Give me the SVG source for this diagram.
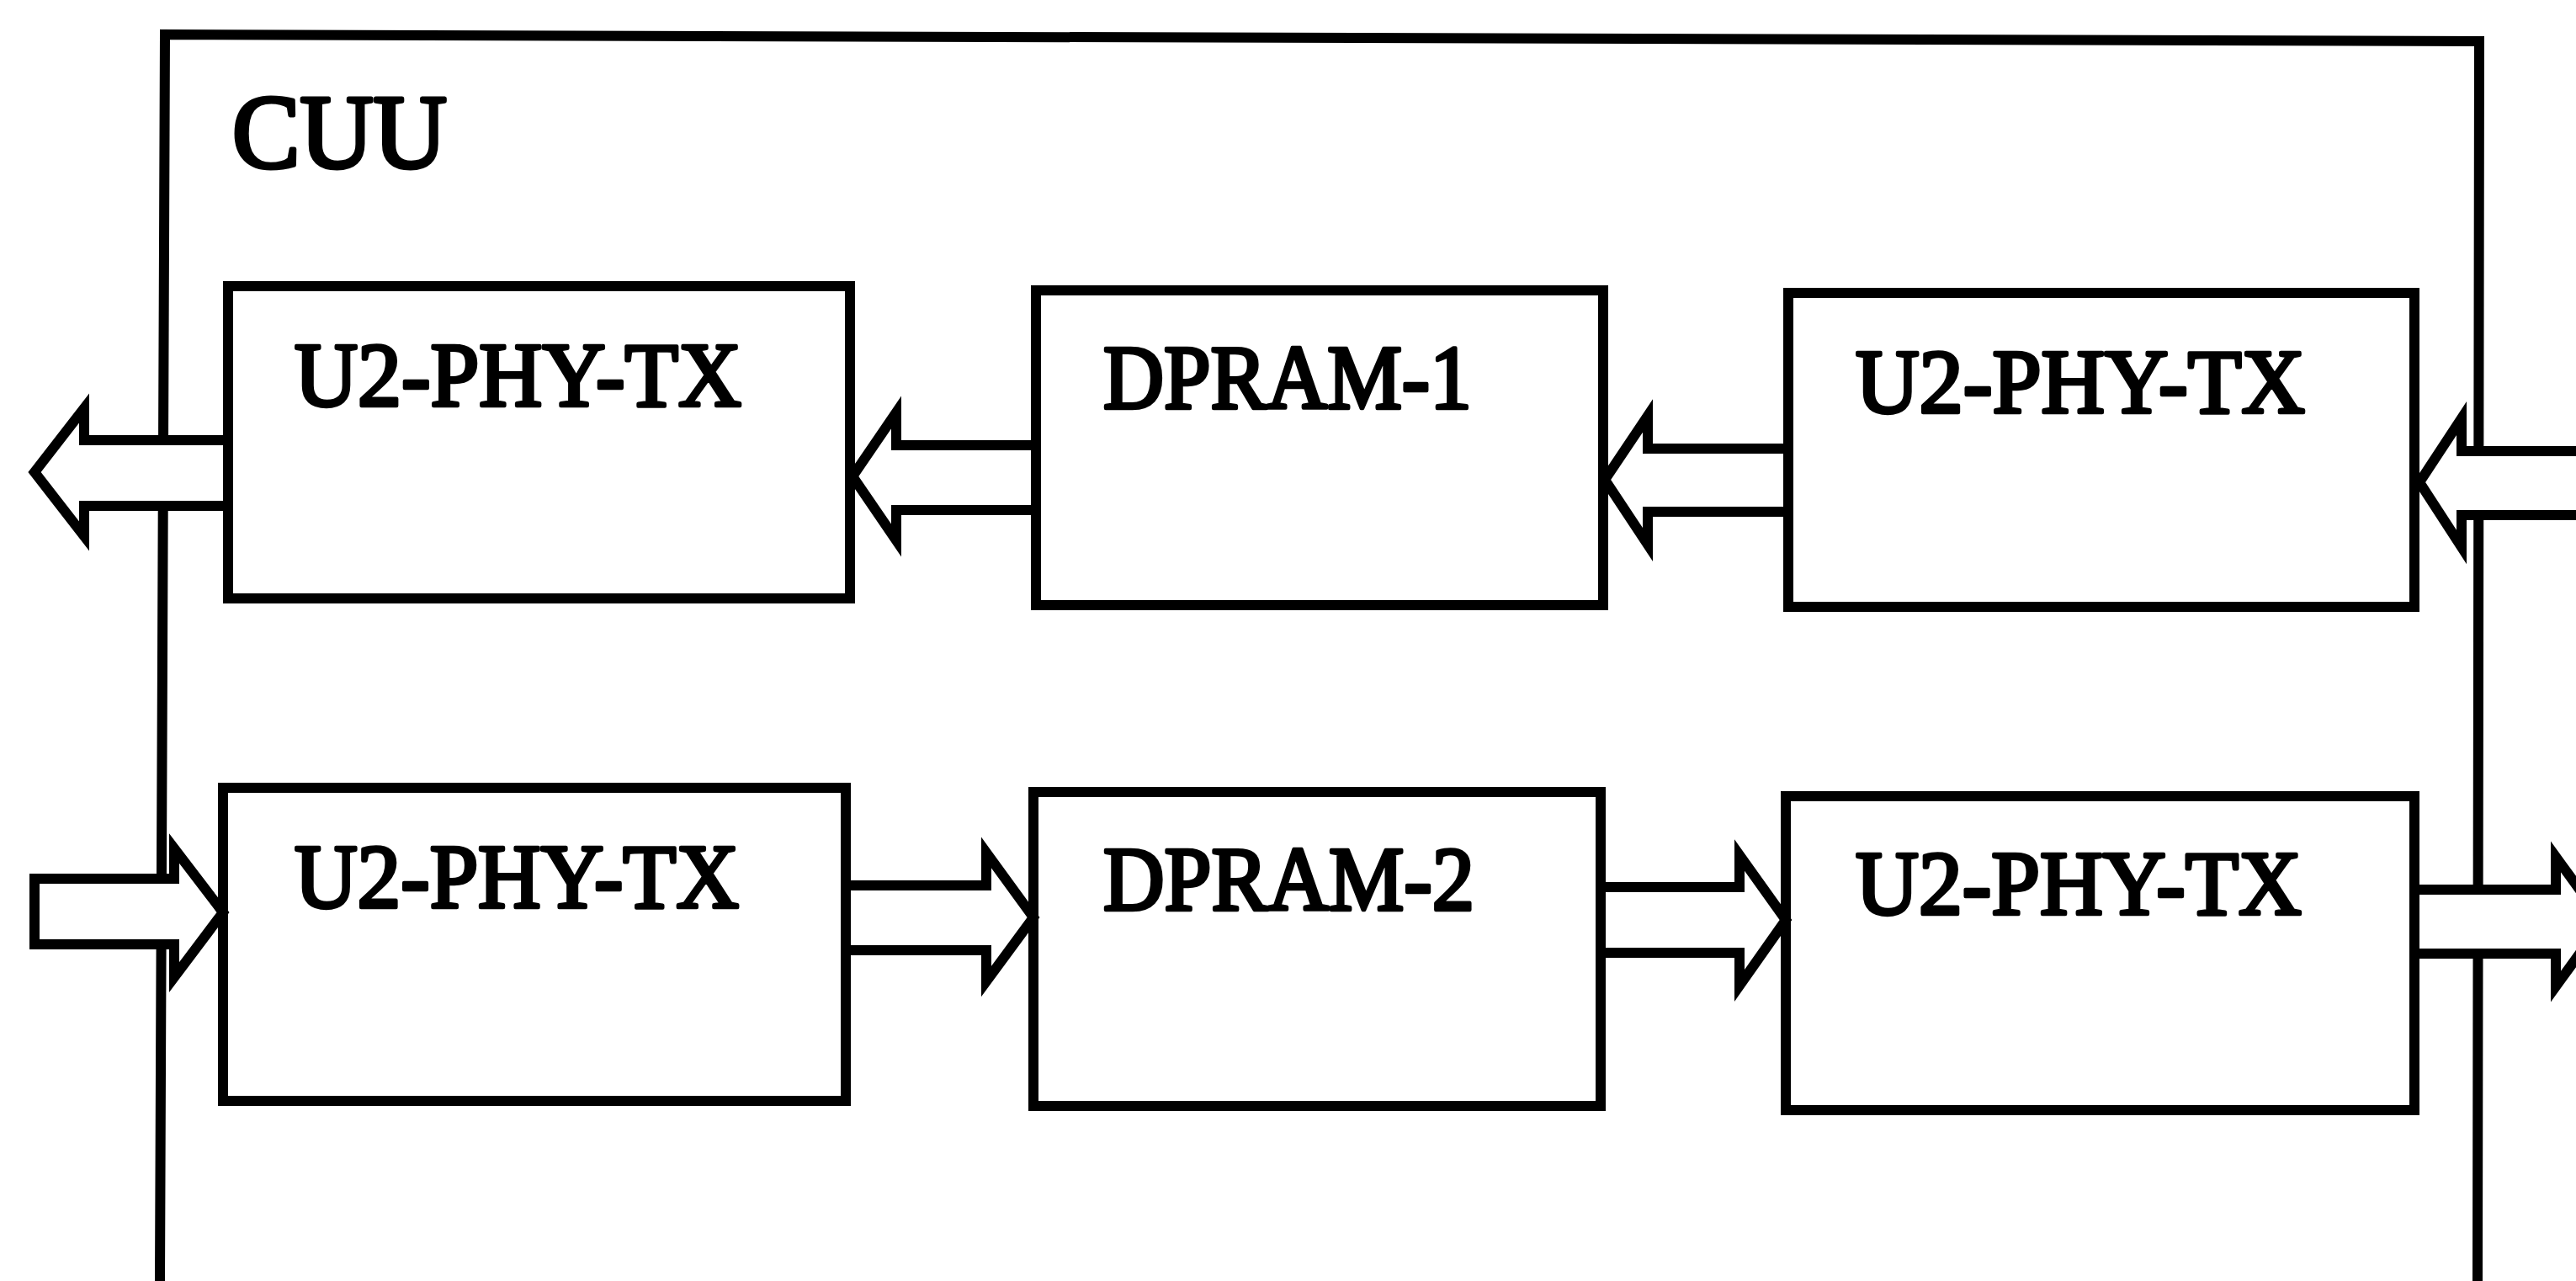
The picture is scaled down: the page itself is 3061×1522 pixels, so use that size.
<svg xmlns="http://www.w3.org/2000/svg" width="3061" height="1522" viewBox="0 0 3061 1522">
<style>
.box{fill:none;stroke:#000;stroke-width:12}
.frame{fill:none;stroke:#000;stroke-width:12}
.arr{fill:#fff;stroke:#000;stroke-width:12;stroke-linejoin:miter;stroke-miterlimit:10}
.lbl{font-family:"Liberation Serif","Times New Roman",serif;font-size:108px;fill:#000;stroke:#000;stroke-width:4.5;stroke-linejoin:round}
.title{font-family:"Liberation Serif","Times New Roman",serif;font-size:124px;fill:#000;stroke:#000;stroke-width:5;stroke-linejoin:round}
</style>
<rect x="0" y="0" width="3061" height="1522" fill="#fff"/>
<g id="cuu">
<path class="frame" d="M190,1522 L196,41 L2946,49 L2944,1522"/>
<text class="title" x="276" y="199" textLength="255" lengthAdjust="spacingAndGlyphs">CUU</text>
</g>
<g id="connectors">
<path class="arr" d="M271,523 H100 V485 L41,561 L100,637 V601 H271"/>
<path class="arr" d="M1231,529 H1065 V490 L1013,566 L1065,642 V606 H1231"/>
<path class="arr" d="M2125,533 H1958 V494 L1907,570 L1958,647 V608 H2125"/>
<path class="arr" d="M3075,536 H2925 V497 L2875,573 L2925,650 V612 H3075"/>
<path class="arr" d="M41,1044 H207 V1008 L265,1084 L207,1161 V1122 H41 Z"/>
<path class="arr" d="M1005,1052 H1172 V1013 L1228,1090 L1172,1166 V1129 H1005"/>
<path class="arr" d="M1902,1054 H2067 V1016 L2122,1093 L2067,1171 V1132 H1902"/>
<path class="arr" d="M2869,1057 H3037 V1018 L3093,1095 L3037,1172 V1133 H2869"/>
</g>
<g id="tx1">
<rect class="box" x="271" y="340" width="739" height="371"/>
<text class="lbl" x="350" y="482" textLength="531" lengthAdjust="spacingAndGlyphs">U2-PHY-TX</text>
</g>
<g id="dpram1">
<rect class="box" x="1231" y="345" width="674" height="374"/>
<text class="lbl" x="1311" y="485" textLength="438" lengthAdjust="spacingAndGlyphs">DPRAM-1</text>
</g>
<g id="tx2">
<rect class="box" x="2125" y="348" width="744" height="373"/>
<text class="lbl" x="2205" y="490" textLength="534" lengthAdjust="spacingAndGlyphs">U2-PHY-TX</text>
</g>
<g id="tx3">
<rect class="box" x="265" y="936" width="740" height="372"/>
<text class="lbl" x="350" y="1078" textLength="528" lengthAdjust="spacingAndGlyphs">U2-PHY-TX</text>
</g>
<g id="dpram2">
<rect class="box" x="1228" y="941" width="674" height="373"/>
<text class="lbl" x="1311" y="1081" textLength="441" lengthAdjust="spacingAndGlyphs">DPRAM-2</text>
</g>
<g id="tx4">
<rect class="box" x="2122" y="946" width="747" height="373"/>
<text class="lbl" x="2205" y="1086" textLength="530" lengthAdjust="spacingAndGlyphs">U2-PHY-TX</text>
</g>
</svg>
